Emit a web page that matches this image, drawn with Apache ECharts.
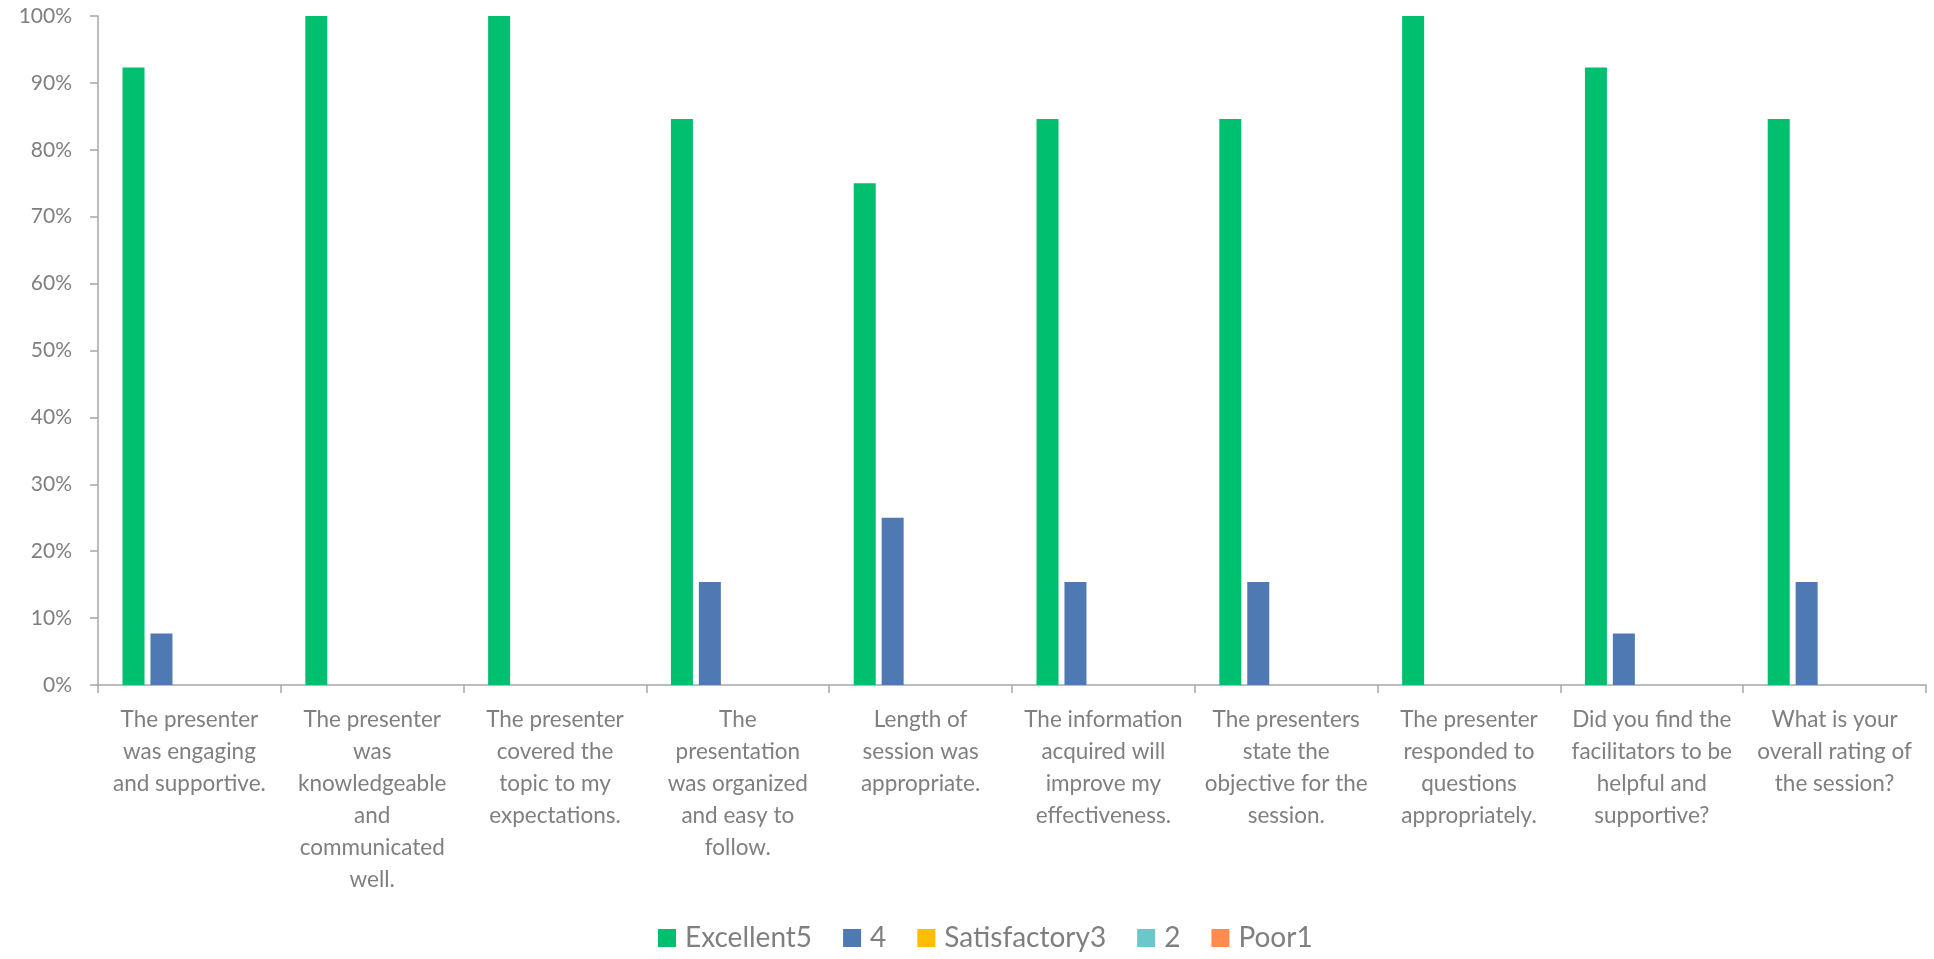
<!DOCTYPE html>
<html>
<head>
<meta charset="utf-8">
<script src="https://cdn.jsdelivr.net/npm/echarts@6/dist/echarts.min.js"></script>
<style>
html,body{margin:0;padding:0;background:#fff;}
#chart{width:1934px;height:959px;}
</style>
</head>
<body>
<div id="chart"></div>
<script>
var categories = [
  "The presenter\nwas engaging\nand supportive.",
  "The presenter\nwas\nknowledgeable\nand\ncommunicated\nwell.",
  "The presenter\ncovered the\ntopic to my\nexpectations.",
  "The\npresentation\nwas organized\nand easy to\nfollow.",
  "Length of\nsession was\nappropriate.",
  "The information\nacquired will\nimprove my\neffectiveness.",
  "The presenters\nstate the\nobjective for the\nsession.",
  "The presenter\nresponded to\nquestions\nappropriately.",
  "Did you find the\nfacilitators to be\nhelpful and\nsupportive?",
  "What is your\noverall rating of\nthe session?"
];
var seriesNames = ["Excellent5", "4", "Satisfactory3", "2", "Poor1"];
var excellent5 = [92.3, 100, 100, 84.6, 75, 84.6, 84.6, 100, 92.3, 84.6];
var rating4 = [7.7, 0, 0, 15.4, 25, 15.4, 15.4, 0, 7.7, 15.4];
var satisfactory3 = [0, 0, 0, 0, 0, 0, 0, 0, 0, 0];
var rating2 = [0, 0, 0, 0, 0, 0, 0, 0, 0, 0];
var poor1 = [0, 0, 0, 0, 0, 0, 0, 0, 0, 0];
var colors = ["#00BF6F", "#4E79B3", "#FBBF00", "#6BC7CB", "#FF8B4D"];

var allData = [excellent5, rating4, satisfactory3, rating2, poor1];
var textColor = "#7F7F7F";
var axisColor = "#A6A6A6";
var fontFamily = "Lato, 'Open Sans', sans-serif";

var chart = echarts.init(document.getElementById('chart'));
chart.setOption({
  animation: false,
  color: colors,
  grid: { left: 98, right: 8, top: 16, bottom: 274, containLabel: false },
  legend: {
    bottom: 2,
    left: 653,
    itemWidth: 18,
    itemHeight: 18,
    itemGap: 31,
    icon: 'rect',
    textStyle: { color: textColor, fontSize: 28, fontFamily: fontFamily, padding: [0, 0, 0, 4] },
    data: seriesNames
  },
  xAxis: {
    type: 'category',
    data: categories,
    axisLine: { show: true, lineStyle: { color: axisColor, width: 1.5 } },
    axisTick: { show: true, length: 8, lineStyle: { color: axisColor, width: 1.5 } },
    axisLabel: {
      interval: 0,
      margin: 19,
      color: textColor,
      fontSize: 22.5,
      lineHeight: 32,
      fontFamily: fontFamily,
      align: 'center'
    },
    splitLine: { show: false }
  },
  yAxis: {
    type: 'value',
    min: 0,
    max: 100,
    interval: 10,
    axisLine: { show: true, lineStyle: { color: axisColor, width: 1.5 } },
    axisTick: { show: true, length: 8, lineStyle: { color: axisColor, width: 1.5 } },
    axisLabel: {
      margin: 26,
      color: textColor,
      fontSize: 21,
      fontFamily: fontFamily,
      formatter: '{value}%'
    },
    splitLine: { show: false }
  },
  series: seriesNames.map(function (name, i) {
    return {
      name: name,
      type: 'bar',
      data: allData[i],
      barWidth: 22,
      barGap: '27%',
      itemStyle: { color: colors[i] }
    };
  })
});
</script>
</body>
</html>
